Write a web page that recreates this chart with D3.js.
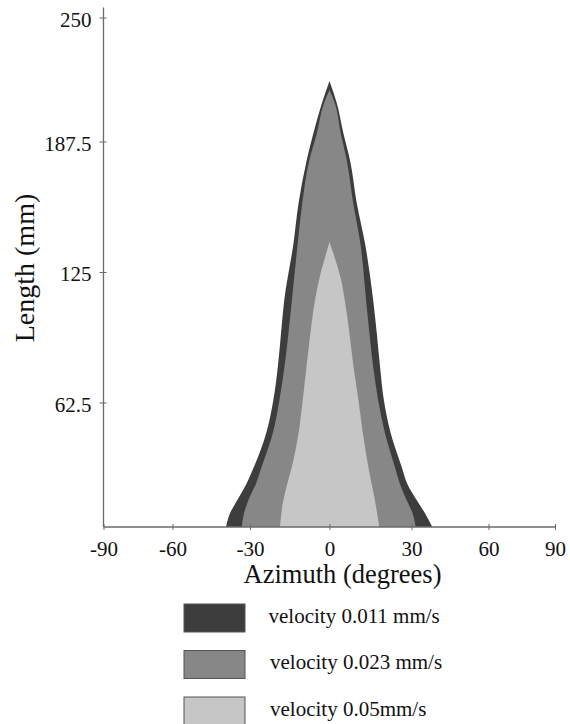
<!DOCTYPE html>
<html>
<head>
<meta charset="utf-8">
<script src="https://cdn.jsdelivr.net/npm/d3@7"></script>
<style>
  body { margin: 0; background: #fff; }
  svg { display: block; font-family: "Liberation Serif", "Times New Roman", serif; }
  svg text { font-family: "Liberation Serif", "Times New Roman", serif; }
</style>
</head>
<body>
<script>
const width = 570;
const height = 724;

// Tick values
const azimuthTicks = [-90, -60, -30, 0, 30, 60, 90];
const lengthTicks = [62.5, 125, 187.5, 250];

// velocity 0.011 mm/s (outer envelope)
const slowLength = [0, 7, 13.5, 21.9, 30.2, 47.1, 63.6, 79.5, 95.7, 111.4, 138.6, 157.8, 178.5, 191.5, 206.7, 218];
const slowLeft   = [-39.3, -37.7, -34.9, -31.3, -28.5, -23.9, -21.2, -19.5, -18.3, -17.1, -13.6, -11.7, -8.6, -6.1, -2.9, 0];
const slowRight  = [38.1, 35.2, 32.0, 28.4, 26.4, 22.4, 19.9, 18.5, 17.3, 16.0, 13.0, 10.0, 7.5, 5.1, 2.7, 0];

// velocity 0.023 mm/s
const midLength = [0, 7, 13.5, 21.9, 30.2, 47.1, 63.6, 79.5, 95.7, 111.4, 138.6, 157.8, 178.5, 191.5, 206.7, 213.4];
const midLeft   = [-33.2, -32.3, -30.6, -27.7, -25.6, -21.4, -18.9, -17.0, -15.5, -14.2, -12.0, -10.3, -7.6, -4.8, -2.1, 0];
const midRight  = [31.6, 30.4, 28.2, 25.7, 23.9, 20.3, 17.8, 16.0, 14.6, 13.4, 11.3, 8.7, 6.3, 4.1, 2.0, 0];

// velocity 0.05 mm/s (inner core)
const fastLength = [0, 13.5, 21.9, 30.2, 47.1, 63.6, 79.5, 95.7, 111.4, 122.6, 130.6, 139.4];
const fastLeft   = [-18.7, -17.4, -15.9, -14.2, -11.7, -10.1, -8.7, -7.2, -5.5, -3.7, -2.0, 0];
const fastRight  = [18.2, 16.6, 15.4, 14.2, 12.2, 10.6, 8.8, 7.3, 5.6, 4.0, 2.2, 0];

const legendLabels = ["velocity 0.011 mm/s", "velocity 0.023 mm/s", "velocity 0.05mm/s"];
const fills = ["#3d3d3d", "#878787", "#c6c6c6"];

const svg = d3.select("body").append("svg")
    .attr("width", width)
    .attr("height", height);

// The original axes are not evenly spaced, so calibrate on each tick
const x = d3.scaleLinear()
    .domain(azimuthTicks)
    .range([103.5, 172.5, 250, 329.5, 411.5, 488.5, 555]);

const y = d3.scaleLinear()
    .domain([0, 62.5, 125, 187.5, 250])
    .range([527, 402.5, 272, 141.5, 17.5]);

const series = [
    { len: slowLength, left: slowLeft, right: slowRight },
    { len: midLength, left: midLeft, right: midRight },
    { len: fastLength, left: fastLeft, right: fastRight }
];

const area = d3.area()
    .curve(d3.curveMonotoneY)
    .y(d => y(d.len))
    .x0(d => x(d.left))
    .x1(d => x(d.right));

series.forEach((s, i) => {
    const pts = s.len.map((l, j) => ({ len: l, left: s.left[j], right: s.right[j] }));
    svg.append("path")
        .datum(pts)
        .attr("fill", fills[i])
        .attr("d", area);
});

// Axis lines
svg.append("line")
    .attr("x1", x(-90)).attr("x2", x(-90))
    .attr("y1", y(250) - 10).attr("y2", y(0))
    .attr("stroke", "#6a6a6a").attr("stroke-width", 1.3);
svg.append("line")
    .attr("x1", x(-90)).attr("x2", x(90))
    .attr("y1", y(0)).attr("y2", y(0))
    .attr("stroke", "#6a6a6a").attr("stroke-width", 1.3);

// X axis
svg.append("g")
    .attr("transform", `translate(0,${y(0)})`)
    .call(d3.axisBottom(x).tickValues(azimuthTicks).tickSize(3).tickPadding(11).tickFormat(d => String(d)))
    .attr("font-family", null)
    .attr("font-size", 21)
    .call(g => g.select(".domain").remove())
    .call(g => g.selectAll(".tick line").attr("y1", -3).attr("stroke", "#6a6a6a"))
    .call(g => g.selectAll(".tick text").attr("fill", "#111"));

// Y axis
svg.append("g")
    .attr("transform", `translate(${x(-90)},0)`)
    .call(d3.axisLeft(y).tickValues(lengthTicks).tickSize(4).tickPadding(8).tickFormat(d => String(d)))
    .attr("font-family", null)
    .attr("font-size", 21)
    .call(g => g.select(".domain").remove())
    .call(g => g.selectAll(".tick line").attr("x1", 3).attr("stroke", "#6a6a6a"))
    .call(g => g.selectAll(".tick text")
        .attr("dy", "0.42em")
        .attr("fill", "#111"));

// Axis titles
svg.append("text")
    .attr("x", 342.5)
    .attr("y", 583)
    .attr("text-anchor", "middle")
    .attr("font-size", 26.5)
    .attr("fill", "#111")
    .text("Azimuth (degrees)");

svg.append("text")
    .attr("transform", "translate(34,268) rotate(-90)")
    .attr("text-anchor", "middle")
    .attr("font-size", 28)
    .attr("fill", "#111")
    .text("Length (mm)");

// Legend
const legend = svg.append("g").attr("transform", "translate(184,604)");

legendLabels.forEach((label, i) => {
    const row = legend.append("g").attr("transform", `translate(0,${i * 46.5})`);
    row.append("rect")
        .attr("width", 61)
        .attr("height", 28)
        .attr("fill", fills[i])
        .attr("stroke", "#555")
        .attr("stroke-width", 1);
    row.append("text")
        .attr("x", i === 0 ? 84.5 : 86)
        .attr("y", 18.5)
        .attr("font-size", 21)
        .attr("fill", "#111")
        .text(label);
});
</script>
</body>
</html>
